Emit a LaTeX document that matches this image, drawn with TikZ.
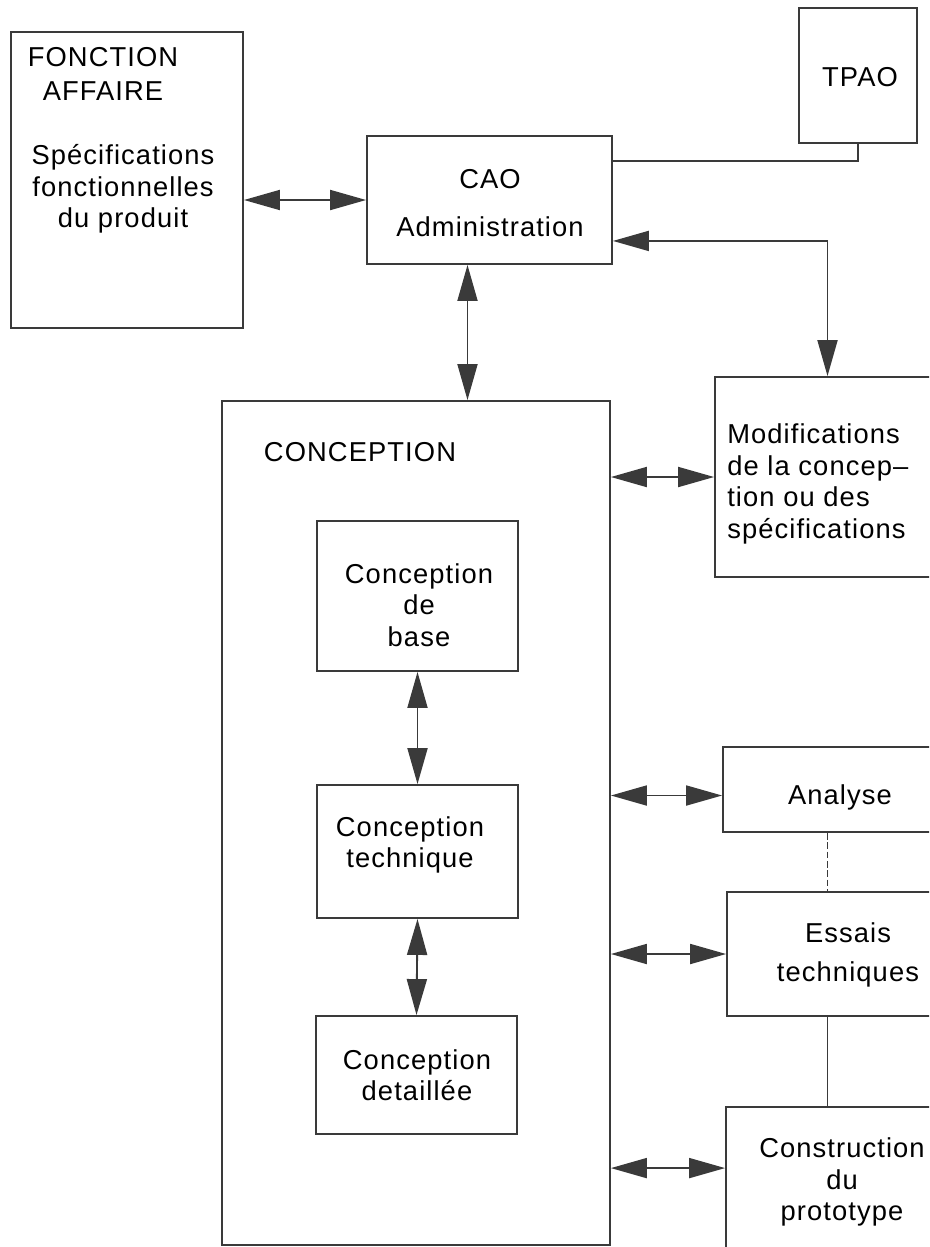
\documentclass[tikz,border=0pt]{standalone}
\usepackage{fontspec}
\setmainfont{Liberation Sans}[LetterSpace=4]
\usetikzlibrary{arrows.meta,fit,calc}
\definecolor{ink}{HTML}{3A3A3A}
\begin{document}
\begin{tikzpicture}[x=0.75pt,y=-0.75pt,
  box/.style={draw=ink,line width=1.4pt,inner sep=0pt,rectangle},
  txt/.style={text=black,font=\fontsize{20.5}{23.6}\selectfont,inner sep=0pt,align=center},
  link/.style={draw=ink,line width=1.4pt},
  dbl/.style={link,{Triangle[length=27pt,width=15pt,fill=ink]}-{Triangle[length=27pt,width=15pt,fill=ink]}},
  onehead/.style={link,-{Triangle[length=27pt,width=15pt,fill=ink]}}]
\useasboundingbox (0,0) rectangle (929,1247);
\clip (0,0) rectangle (929,1247);

% boxes
\node[box,fit={(11,32) (243,328)}] (fa) {};
\node[box,fit={(799,8) (917,143)}] (tpao) {};
\node[box,fit={(367,136) (612,264)}] (cao) {};
\node[box,fit={(222,401) (610,1245)}] (conc) {};
\node[box,fit={(715,377) (940,577)}] (modif) {};
\node[box,fit={(317,521) (518,671)}] (base) {};
\node[box,fit={(317,785) (518,918)}] (tech) {};
\node[box,fit={(316,1016) (517,1134)}] (det) {};
\node[box,fit={(723,747) (940,832)}] (analyse) {};
\node[box,fit={(727,892) (940,1016)}] (essais) {};
\node[box,fit={(726,1107) (940,1262)}] (constr) {};

% labels
\node[txt] (fa-title) at (103,74) {FONCTION\\[2pt]AFFAIRE};
\node[txt] (fa-spec) at (123,189) {Spécifications\\fonctionnelles\\du produit};
\node[txt] (tpao-t) at (860,77) {TPAO};
\node[txt] (cao-t) at (490,203) {CAO\\[12pt]Administration};
\node[txt] (conc-t) at (360,452) {CONCEPTION};
\node[txt] (base-t) at (419,605) {Conception\\de\\base};
\node[txt] (tech-t) at (410,845) {Conception\\technique};
\node[txt] (det-t) at (417,1075) {Conception\\detaillée};
\node[txt,align=left,anchor=west] (modif-t) at (727,484) {Modifications\\de la concep--\\tion ou des\\spécifications};
\node[txt] (analyse-t) at (840,797) {Analyse};
\node[txt] (essais-t) at (848,955) {Essais\\[6pt]techniques};
\node[txt] (constr-t) at (842,1182) {Construction\\du\\prototype};

% connector end points off the box centres
\coordinate (cao-down) at ($(cao.south)+(-22,0)$);
\coordinate (cao-side) at ($(cao.south east)+(0,-24)$);
\coordinate (cao-tpao) at ($(cao.north east)+(0,26)$);
\coordinate (an-in) at ($(analyse.west)+(0,6)$);
\coordinate (cp-in) at ($(constr.north west)+(0,62)$);

% connectors
\draw[dbl] (fa.east |- cao.west) -- (cao.west);
\draw[dbl] (cao-down) -- (cao-down |- conc.north);
\draw[link] (tpao.south) |- (cao-tpao);
\draw[dbl] (cao-side) -| (modif.north);
\draw[dbl] (conc.east |- modif.west) -- (modif.west);
\draw[dbl] (conc.east |- an-in) -- (an-in);
\draw[dbl] (conc.east |- essais.west) -- (essais.west);
\draw[dbl] (conc.east |- cp-in) -- (cp-in);
\draw[dbl] (base.south) -- (tech.north);
\draw[dbl] (tech.south) -- (det.north);
\draw[link,dash pattern=on 5pt off 2pt] (analyse.south -| modif.north) -- (essais.north -| modif.north);
\draw[link] (essais.south -| modif.north) -- (constr.north -| modif.north);
\end{tikzpicture}
\end{document}
